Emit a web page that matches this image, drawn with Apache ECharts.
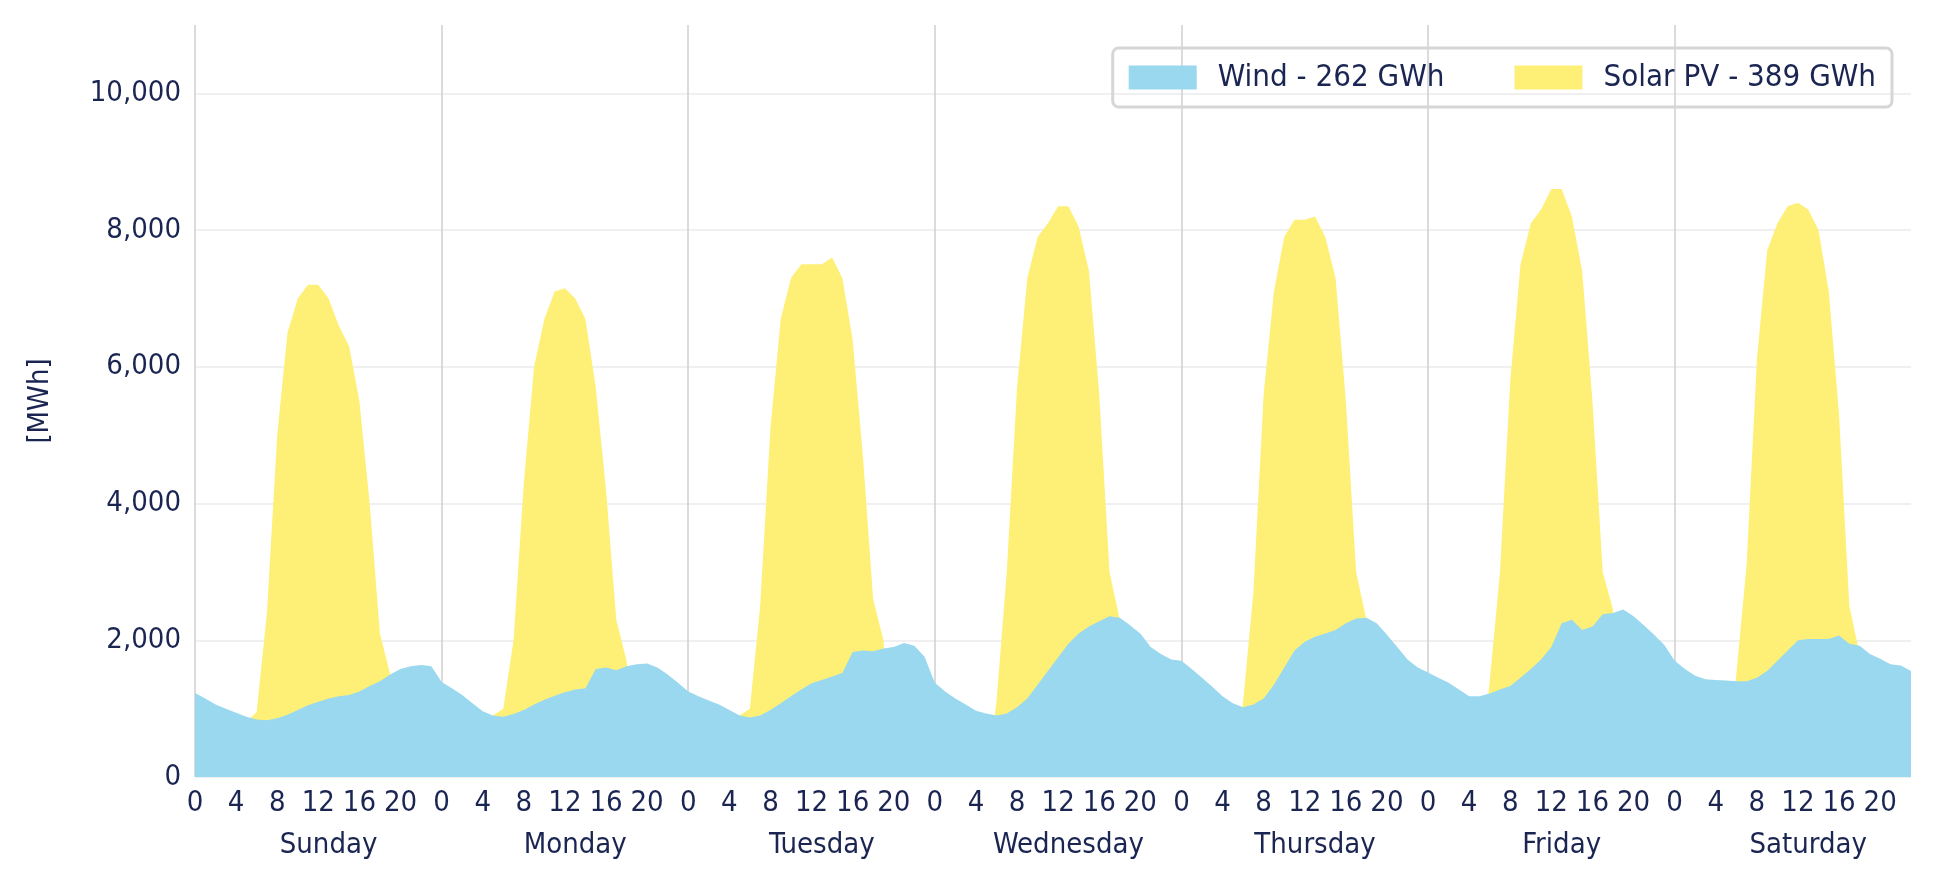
<!DOCTYPE html>
<html><head><meta charset="utf-8">
<script src="https://cdn.jsdelivr.net/npm/echarts@6/dist/echarts.min.js"></script>
<style>html,body{margin:0;padding:0;background:#fff}#c{width:1940px;height:894px}</style>
</head><body><div id="c"></div>
<script>
const days = ['Sunday','Monday','Tuesday','Wednesday','Thursday','Friday','Saturday'];
const wind = [
1230,1150,1060,1000,940,880,840,830,860,910,980,1050,1100,1150,1180,1200,1250,1330,1400,1500,1580,1620,1640,1620,
1390,1300,1200,1080,960,900,880,920,980,1060,1130,1190,1240,1280,1300,1580,1600,1560,1620,1650,1660,1600,1500,1380,
1250,1180,1120,1060,980,900,870,900,980,1080,1180,1280,1370,1420,1470,1520,1830,1850,1840,1880,1900,1960,1920,1760,
1380,1250,1150,1060,970,930,900,930,1020,1150,1350,1550,1750,1950,2100,2200,2280,2350,2330,2220,2100,1900,1800,1720,
1700,1580,1450,1320,1180,1080,1020,1060,1150,1350,1600,1850,1980,2050,2100,2150,2250,2320,2330,2250,2080,1900,1720,1600,
1530,1450,1380,1280,1180,1180,1220,1280,1330,1450,1580,1720,1900,2250,2300,2150,2200,2380,2400,2450,2350,2220,2080,1930,
1700,1580,1480,1430,1420,1410,1400,1400,1450,1550,1700,1850,2000,2020,2020,2020,2070,1950,1920,1800,1730,1650,1630,1550];
const solar = [
0,0,0,0,0,800,950,2400,5000,6500,7000,7200,7200,7000,6600,6300,5500,4000,2100,1500,0,0,0,0,
0,0,0,0,0,900,1000,2000,4300,6000,6700,7100,7150,7000,6700,5700,4200,2300,1700,0,0,0,0,0,
0,0,0,0,0,900,1000,2500,5100,6700,7300,7500,7500,7500,7600,7300,6400,4700,2600,2000,0,0,0,0,
0,0,0,0,0,0,1100,3000,5700,7300,7900,8100,8350,8350,8050,7400,5600,3000,2300,0,0,0,0,0,
0,0,0,0,0,0,1100,2700,5600,7100,7900,8150,8150,8200,7900,7300,5500,3000,2300,0,0,0,0,0,
0,0,0,0,0,0,1400,3000,5800,7500,8100,8300,8600,8600,8200,7400,5500,3000,2450,0,0,0,0,0,
0,0,0,0,0,0,1500,3100,6100,7700,8100,8350,8400,8300,8000,7100,5300,2500,1800,0,0,0,0,0];
const hours = wind.map((_, i) => String(i));
const txt = '#1b2552', font = 'DejaVu Sans Condensed, DejaVu Sans';
const chart = echarts.init(document.getElementById('c'));
chart.setOption({
  animation:false,
  grid:{left:195,right:29,top:25,bottom:117},
  legend:{top:48,right:48,icon:'rect',itemWidth:68,itemHeight:24,itemGap:70,padding:[14,16],
    borderColor:'#d6d6d6',borderWidth:3,borderRadius:6,
    textStyle:{color:txt,fontFamily:font,fontSize:31,padding:[0,0,0,16]},
    data:['Wind - 262 GWh','Solar PV - 389 GWh']},
  xAxis:[{type:'category',data:hours,boundaryGap:false,
    axisLine:{show:false},axisTick:{show:false},
    axisLabel:{interval:(i)=>i%4===0,formatter:(v)=>String(+v%24),color:txt,fontFamily:font,fontSize:29,margin:12},
    splitLine:{show:true,interval:(i)=>i%24===0,lineStyle:{color:'#cfcfcf',width:1.5}}},
   {type:'category',data:hours,boundaryGap:false,position:'bottom',offset:42,
    axisLine:{show:false},axisTick:{show:false},
    axisLabel:{interval:(i)=>i%24===13,formatter:(v)=>days[Math.floor(+v/24)],color:txt,fontFamily:font,fontSize:29,margin:12}}],
  yAxis:{type:'value',min:0,max:11000,interval:1000,
    name:'[MWh]',nameLocation:'middle',nameGap:140,nameTextStyle:{color:txt,fontFamily:font,fontSize:29},
    axisLine:{show:false},axisTick:{show:false},
    axisLabel:{color:txt,fontFamily:font,fontSize:29,margin:14,
      formatter:(v)=> (v%2000===0 && v<=10000) ? v.toLocaleString('en-US') : ''},
    splitLine:{lineStyle:{color:['#ebebeb','rgba(0,0,0,0)'],width:1.5}}},
  series:[
   {name:'Solar PV - 389 GWh',type:'line',data:solar,symbol:'none',lineStyle:{width:0},
    itemStyle:{color:'#fef077'},areaStyle:{color:'#fef077',opacity:1},z:2},
   {name:'Wind - 262 GWh',type:'line',data:wind,symbol:'none',lineStyle:{width:0},
    itemStyle:{color:'#99d8ee'},areaStyle:{color:'#99d8ee',opacity:1},z:3}
  ]
});
</script></body></html>
